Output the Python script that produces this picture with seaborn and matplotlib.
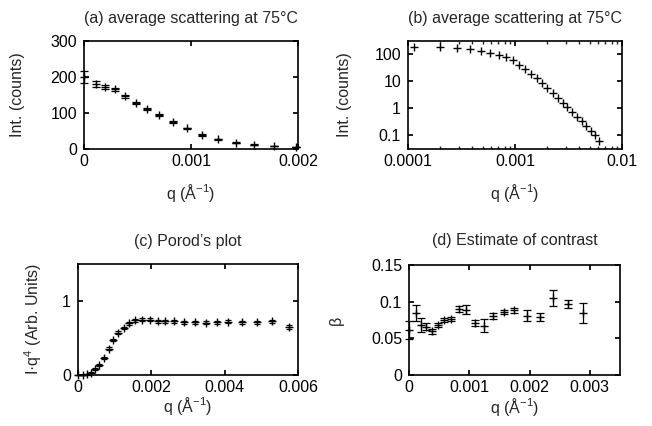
import numpy as np
import pandas as pd
import matplotlib
matplotlib.use("Agg")
import matplotlib.pyplot as plt
import matplotlib.ticker as mticker
import seaborn as sns

# scattering curve at 75 C (shared by panels a and b)
q_scat = [0, 1.15e-4, 2.0e-4, 2.9e-4, 3.83e-4, 4.83e-4, 5.87e-4, 7.04e-4, 8.3e-4, 9.6e-4,
          1.1e-3, 1.25e-3, 1.42e-3, 1.59e-3, 1.78e-3, 1.98e-3, 2.25e-3, 2.5e-3, 2.79e-3,
          3.08e-3, 3.43e-3, 3.82e-3, 4.2e-3, 4.61e-3, 5.1e-3, 5.6e-3, 6.1e-3]
I_scat = [200, 180, 173, 166, 146, 128, 111, 94, 76, 57,
          39, 27, 18, 12.3, 8, 5.4, 3.55, 2.3, 1.56,
          1.05, 0.70, 0.47, 0.32, 0.21, 0.143, 0.096, 0.058]
I_err = [16, 8, 5, 4, 4, 3, 3, 3, 3, 2,
         2, 1.5, 1, 1, 1, 1, 0.5, 0.3, 0.2,
         0.1, 0.08, 0.05, 0.03, 0.02, 0.015, 0.01, 0.008]

# Porod plot
q_porod = [0, 1.45e-4, 2.4e-4, 3.45e-4, 4.6e-4, 5.8e-4, 7.2e-4, 8.5e-4, 9.6e-4, 1.1e-3,
           1.25e-3, 1.4e-3, 1.55e-3, 1.74e-3, 1.96e-3, 2.17e-3, 2.37e-3, 2.61e-3, 2.9e-3,
           3.19e-3, 3.48e-3, 3.78e-3, 4.1e-3, 4.48e-3, 4.87e-3, 5.3e-3, 5.75e-3]
Iq4 = [0, 0, 0.01, 0.03, 0.08, 0.14, 0.235, 0.357, 0.47, 0.574,
       0.63, 0.70, 0.742, 0.746, 0.746, 0.728, 0.728, 0.723, 0.71,
       0.715, 0.705, 0.71, 0.72, 0.71, 0.715, 0.723, 0.647]
Iq4_err = [0.005, 0.005, 0.005, 0.008, 0.01, 0.012, 0.015, 0.015, 0.015, 0.015,
           0.015, 0.02, 0.02, 0.02, 0.02, 0.02, 0.02, 0.02, 0.02,
           0.02, 0.02, 0.02, 0.02, 0.02, 0.02, 0.02, 0.025]

# contrast estimate
q_beta = [0, 1.16e-4, 1.94e-4, 2.8e-4, 3.76e-4, 4.76e-4, 5.75e-4, 6.96e-4, 8.24e-4, 9.5e-4,
          1.09e-3, 1.24e-3, 1.4e-3, 1.57e-3, 1.74e-3, 1.95e-3, 2.17e-3, 2.39e-3, 2.64e-3, 2.89e-3]
beta = [0.061, 0.0846, 0.0686, 0.066, 0.0594, 0.068, 0.0754, 0.0764, 0.0905, 0.089,
        0.0709, 0.0672, 0.08, 0.086, 0.088, 0.081, 0.079, 0.105, 0.097, 0.0846]
beta_err = [0.012, 0.0103, 0.0098, 0.005, 0.004, 0.003, 0.003, 0.003, 0.004, 0.006,
            0.004, 0.009, 0.004, 0.003, 0.003, 0.008, 0.005, 0.011, 0.0055, 0.0133]

FS = 11.5

sns.set_theme(style="ticks")
plt.rcParams['font.family'] = ['Liberation Sans', 'DejaVu Sans']
plt.rcParams['mathtext.fontset'] = 'custom'
plt.rcParams['mathtext.rm'] = 'Liberation Sans'
plt.rcParams['font.size'] = FS
plt.rcParams['axes.linewidth'] = 1.2
plt.rcParams['xtick.direction'] = 'in'
plt.rcParams['ytick.direction'] = 'in'
plt.rcParams['xtick.top'] = True
plt.rcParams['ytick.right'] = True
plt.rcParams['xtick.major.size'] = 3.5
plt.rcParams['ytick.major.size'] = 3.5
plt.rcParams['xtick.minor.size'] = 2
plt.rcParams['ytick.minor.size'] = 2
plt.rcParams['xtick.major.pad'] = 3.5
plt.rcParams['ytick.major.pad'] = 5

W, H = 652, 426
fig = plt.figure(figsize=(W / 100, H / 100), dpi=100)


def box(left, top, right, bottom):
    # pixel box -> figure fraction
    return [left / W, 1 - bottom / H, (right - left) / W, (bottom - top) / H]


ax_a = fig.add_axes(box(84, 41, 298, 149))
ax_b = fig.add_axes(box(408, 41, 622, 149))
ax_c = fig.add_axes(box(78, 264, 298, 375))
ax_d = fig.add_axes(box(409, 265, 620, 375))

qlabel = r'q (Å$\mathregular{^{-1}}$)'
df = pd.DataFrame({'q': q_scat, 'I': I_scat, 'err': I_err})


def draw(ax, x, y, err=None, capsize=3):
    sns.scatterplot(x=x, y=y, ax=ax, marker='+', color='black', s=34,
                    linewidth=1.0, legend=False, zorder=3, clip_on=False)
    if err is not None:
        ax.errorbar(x, y, yerr=err, fmt='none', ecolor='black', elinewidth=0.9,
                    capsize=capsize, capthick=0.9, zorder=2, clip_on=False)


def labels(ax, title, ylabel, title_px, xlab_px, ylab_px):
    bb = ax.get_position()
    w_px, h_px = bb.width * W, bb.height * H
    ax.set_title(title, fontsize=FS, y=1 + title_px / h_px, pad=0, va='center')
    ax.set_xlabel(qlabel, fontsize=FS, va='center')
    ax.xaxis.set_label_coords(0.5, -xlab_px / h_px)
    ax.set_ylabel(ylabel, fontsize=FS, va='center')
    ax.yaxis.set_label_coords(-ylab_px / w_px, 0.5)


# (a) linear
sub = df[df.q <= 0.002]
draw(ax_a, sub.q.values, sub.I.values, sub.err.values)
ax_a.set_xlim(0, 0.002)
ax_a.set_ylim(0, 300)
ax_a.set_xticks([0, 0.001, 0.002])
ax_a.set_xticklabels(['0', '0.001', '0.002'])
ax_a.set_yticks([0, 100, 200, 300])
labels(ax_a, '(a) average scattering at 75°C', 'Int. (counts)', 23, 44, 66)

# (b) log-log
sub = df[df.q > 0]
ax_b.set_xscale('log')
ax_b.set_yscale('log')
draw(ax_b, sub.q.values, sub.I.values)
ax_b.set_xlim(1e-4, 1e-2)
ax_b.set_ylim(0.03, 300)
ax_b.set_xticks([1e-4, 1e-3, 1e-2])
ax_b.set_xticklabels(['0.0001', '0.001', '0.01'])
ax_b.set_yticks([0.1, 1, 10, 100])
ax_b.set_yticklabels(['0.1', '1', '10', '100'])
ax_b.xaxis.set_minor_locator(mticker.LogLocator(base=10, subs=np.arange(2, 10)))
ax_b.yaxis.set_minor_locator(mticker.LogLocator(base=10, subs=np.arange(2, 10)))
ax_b.xaxis.set_minor_formatter(mticker.NullFormatter())
ax_b.yaxis.set_minor_formatter(mticker.NullFormatter())
labels(ax_b, '(b) average scattering at 75°C', 'Int. (counts)', 23, 44, 64)

# (c) Porod
draw(ax_c, q_porod, Iq4, Iq4_err, capsize=2.5)
ax_c.set_xlim(0, 0.006)
ax_c.set_ylim(0, 1.5)
ax_c.set_xticks([0, 0.002, 0.004, 0.006])
ax_c.set_xticklabels(['0', '0.002', '0.004', '0.006'])
ax_c.set_yticks([0, 1])
labels(ax_c, "(c) Porod’s plot", r'I·q$\mathregular{^4}$ (Arb. Units)', 23, 31, 45)

# (d) contrast
draw(ax_d, q_beta, beta, beta_err)
ax_d.set_xlim(0, 0.0035)
ax_d.set_ylim(0, 0.15)
ax_d.set_xticks([0, 0.001, 0.002, 0.003])
ax_d.set_xticklabels(['0', '0.001', '0.002', '0.003'])
ax_d.set_yticks([0, 0.05, 0.1, 0.15])
ax_d.set_yticklabels(['0', '0.05', '0.1', '0.15'])
labels(ax_d, '(d) Estimate of contrast', 'β', 25, 32, 73)

for ax in (ax_a, ax_b, ax_c, ax_d):
    for sp in ax.spines.values():
        sp.set_visible(True)
        sp.set_color('black')
    ax.tick_params(colors='black', labelsize=FS)

fig.savefig('out.png', dpi=100)
